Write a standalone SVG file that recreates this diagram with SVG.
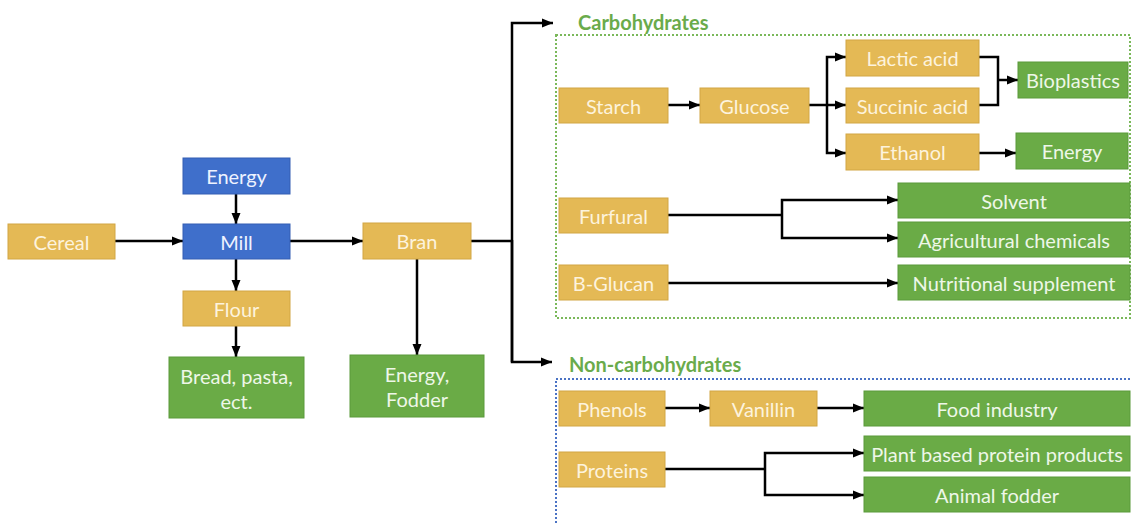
<svg xmlns="http://www.w3.org/2000/svg" width="1135" height="523" viewBox="0 0 1135 523">
<style>
.g rect{fill:#e4b955;stroke:#d2a645;stroke-width:1}
.gr rect{fill:#6aab46;stroke:#5a9a3a;stroke-width:1}
.b rect{fill:#3f6fcb;stroke:#345fb3;stroke-width:1}
text{font-family:Lato,"Open Sans","Liberation Sans",sans-serif;font-size:20px;text-anchor:middle;dominant-baseline:central}
.g text{fill:#fdf3dd}
.gr text{fill:#eef7e8}
.b text{fill:#eef3ff}
.lbl{fill:#6aab4b;font-weight:bold;text-anchor:start}
.c path{fill:none;stroke:#000;stroke-width:2.5}
</style>
<defs>
<marker id="ah" markerUnits="userSpaceOnUse" markerWidth="11" markerHeight="11" refX="11" refY="5.5" orient="auto">
<path d="M0,1 L11,5.5 L0,10 z" fill="#000"/>
</marker>
</defs>
<rect x="0" y="0" width="1135" height="523" fill="#fff"/>
<g id="carb-frame">
<rect x="556" y="35" width="574" height="283" fill="none" stroke="#7ab85a" stroke-width="2" stroke-dasharray="2,2"/>
<text class="lbl" x="578" y="22">Carbohydrates</text>
</g>
<g id="noncarb-frame">
<path d="M556,523 V379 H1130" fill="none" stroke="#4a72c4" stroke-width="2" stroke-dasharray="2,2"/>
<text class="lbl" x="569" y="364">Non-carbohydrates</text>
</g>
<g class="c" id="connectors">
<path d="M115,241 H183" marker-end="url(#ah)"/>
<path d="M236,194 V224" marker-end="url(#ah)"/>
<path d="M236,259 V291" marker-end="url(#ah)"/>
<path d="M236,326 V357" marker-end="url(#ah)"/>
<path d="M290,241 H363" marker-end="url(#ah)"/>
<path d="M417,259 V355" marker-end="url(#ah)"/>
<path d="M471,241 H512"/>
<path d="M512,362 V23 H553" marker-end="url(#ah)"/>
<path d="M512,240 V362 H552" marker-end="url(#ah)"/>
<path d="M668,105 H700" marker-end="url(#ah)"/>
<path d="M809,105 H846" marker-end="url(#ah)"/>
<path d="M827,105 V57 H846" marker-end="url(#ah)"/>
<path d="M827,105 V153 H846" marker-end="url(#ah)"/>
<path d="M979,57 H998 V105 H979"/>
<path d="M998,80 H1018" marker-end="url(#ah)"/>
<path d="M979,153 H1016" marker-end="url(#ah)"/>
<path d="M668,215 H782"/>
<path d="M782,215 V200 H898" marker-end="url(#ah)"/>
<path d="M782,215 V238 H898" marker-end="url(#ah)"/>
<path d="M668,283 H898" marker-end="url(#ah)"/>
<path d="M665,408 H710" marker-end="url(#ah)"/>
<path d="M817,408 H864" marker-end="url(#ah)"/>
<path d="M665,469 H765"/>
<path d="M765,469 V453 H864" marker-end="url(#ah)"/>
<path d="M765,469 V495 H864" marker-end="url(#ah)"/>
</g>
<g id="cereal" class="g"><rect x="8" y="224" width="107" height="35"/><text x="61.5" y="241.5">Cereal</text></g>
<g id="energy-in" class="b"><rect x="183" y="158" width="107" height="36"/><text x="236.5" y="176">Energy</text></g>
<g id="mill" class="b"><rect x="183" y="224" width="107" height="35"/><text x="236.5" y="241.5">Mill</text></g>
<g id="flour" class="g"><rect x="183" y="291" width="107" height="35"/><text x="236.5" y="308.5">Flour</text></g>
<g id="bread" class="gr"><rect x="169" y="357" width="135" height="61"/><text x="236.5" y="376">Bread, pasta,</text><text x="236.5" y="401">ect.</text></g>
<g id="bran" class="g"><rect x="363" y="223" width="108" height="36"/><text x="417" y="241">Bran</text></g>
<g id="energy-fodder" class="gr"><rect x="350" y="355" width="134" height="62"/><text x="417" y="374">Energy,</text><text x="417" y="399">Fodder</text></g>
<g id="starch" class="g"><rect x="559" y="88" width="109" height="35"/><text x="613.5" y="105.5">Starch</text></g>
<g id="glucose" class="g"><rect x="700" y="88" width="109" height="35"/><text x="754.5" y="105.5">Glucose</text></g>
<g id="lactic" class="g"><rect x="846" y="40" width="133" height="36"/><text x="912.5" y="58">Lactic acid</text></g>
<g id="succinic" class="g"><rect x="846" y="88" width="133" height="35"/><text x="912.5" y="105.5">Succinic acid</text></g>
<g id="ethanol" class="g"><rect x="846" y="134" width="133" height="36"/><text x="912.5" y="152">Ethanol</text></g>
<g id="bioplastics" class="gr"><rect x="1018" y="62" width="110" height="36"/><text x="1073" y="80">Bioplastics</text></g>
<g id="energy-out" class="gr"><rect x="1016" y="133" width="112" height="36"/><text x="1072" y="151">Energy</text></g>
<g id="furfural" class="g"><rect x="559" y="198" width="109" height="35"/><text x="613.5" y="215.5">Furfural</text></g>
<g id="bglucan" class="g"><rect x="559" y="265" width="109" height="35"/><text x="613.5" y="282.5">B-Glucan</text></g>
<g id="solvent" class="gr"><rect x="898" y="183" width="232" height="35"/><text x="1014" y="200.5">Solvent</text></g>
<g id="agri" class="gr"><rect x="898" y="222" width="232" height="35"/><text x="1014" y="239.5">Agricultural chemicals</text></g>
<g id="nutri" class="gr"><rect x="898" y="265" width="232" height="35"/><text x="1014" y="282.5">Nutritional supplement</text></g>
<g id="phenols" class="g"><rect x="559" y="391" width="106" height="35"/><text x="612" y="408.5">Phenols</text></g>
<g id="vanillin" class="g"><rect x="710" y="391" width="107" height="35"/><text x="763.5" y="408.5">Vanillin</text></g>
<g id="food" class="gr"><rect x="864" y="391" width="266" height="35"/><text x="997" y="408.5">Food industry</text></g>
<g id="proteins" class="g"><rect x="559" y="452" width="106" height="35"/><text x="612" y="469.5">Proteins</text></g>
<g id="plant" class="gr"><rect x="864" y="436" width="266" height="35"/><text x="997" y="453.5">Plant based protein products</text></g>
<g id="animal" class="gr"><rect x="864" y="477" width="266" height="35"/><text x="997" y="494.5">Animal fodder</text></g>
</svg>
